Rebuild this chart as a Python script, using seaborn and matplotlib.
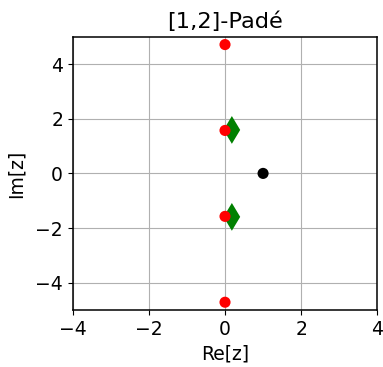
import numpy as np
import matplotlib
matplotlib.use("Agg")
import matplotlib.pyplot as plt
import seaborn as sns

# Poles of the exponential (red), poles of the [1,2]-Padé approximant (green), zero (black)
exp_pole_re = [0.0, 0.0, 0.0, 0.0]
exp_pole_im = [4.712, 1.571, -1.571, -4.712]
pade_pole_re = [0.18, 0.18]
pade_pole_im = [1.59, -1.59]
pade_zero_re = [1.0]
pade_zero_im = [0.0]

plt.rcParams["font.size"] = 13.5

fig, ax = plt.subplots(figsize=(3.83, 3.67), dpi=100)
ax.grid(True, color="#b0b0b0", linewidth=0.8)
ax.set_axisbelow(True)

sns.scatterplot(x=pade_pole_re, y=pade_pole_im, marker="d", s=200, color="green",
                edgecolor="none", ax=ax, zorder=3)
sns.scatterplot(x=exp_pole_re, y=exp_pole_im, marker="o", s=64, color="red",
                edgecolor="none", ax=ax, zorder=4)
sns.scatterplot(x=pade_zero_re, y=pade_zero_im, marker="o", s=64, color="black",
                edgecolor="none", ax=ax, zorder=4)

ax.set_xlim(-4, 4)
ax.set_ylim(-5, 5)
ax.set_xticks([-4, -2, 0, 2, 4])
ax.set_yticks([-4, -2, 0, 2, 4])
ax.set_xlabel("Re[z]")
ax.set_ylabel("Im[z]", labelpad=7)
ax.set_title("[1,2]-Padé")
for sp in ax.spines.values():
    sp.set_linewidth(1.1)
fig.subplots_adjust(left=0.19, right=0.985, top=0.9, bottom=0.155)
fig.savefig("out.png", dpi=100)
